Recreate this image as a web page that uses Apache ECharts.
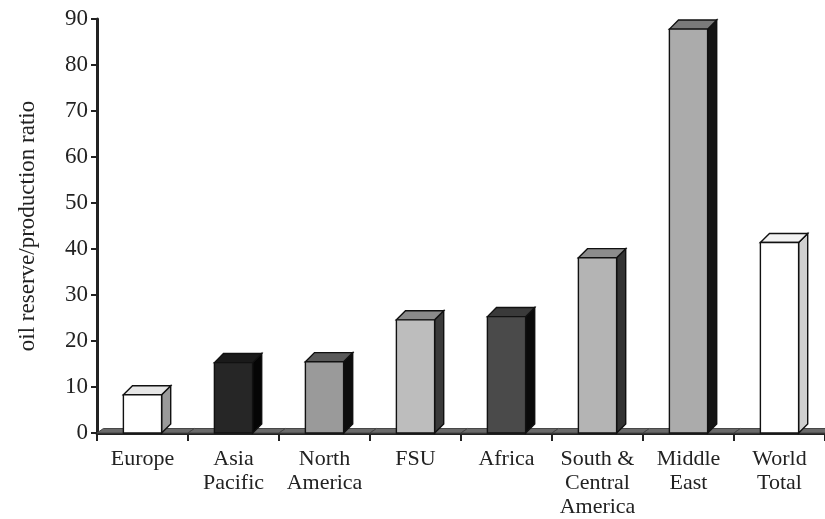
<!DOCTYPE html>
<html>
<head>
<meta charset="utf-8">
<script src="https://cdn.jsdelivr.net/npm/echarts@6/dist/echarts.min.js"></script>
<style>
  html, body { margin: 0; padding: 0; background: #fff; }
  #chart { width: 825px; height: 519px; }
</style>
</head>
<body>
<div id="chart"></div>
<script>
// Oil reserve / production ratio by region
const regions = ['Europe', 'Asia\nPacific', 'North\nAmerica', 'FSU', 'Africa',
                 'South &\nCentral\nAmerica', 'Middle\nEast', 'World\nTotal'];
const ratios = [8.3, 15.3, 15.5, 24.6, 25.3, 38.1, 87.8, 41.4];
const yTicks = [0, 10, 20, 30, 40, 50, 60, 70, 80, 90];

// Shading of each prism: front face, right side, top cap
const frontFill = ['#ffffff', '#262626', '#9a9a9a', '#bdbdbd', '#4a4a4a', '#b4b4b4', '#ababab', '#ffffff'];
const sideFill  = ['#9a9a9a', '#050505', '#0d0d0d', '#3a3a3a', '#0a0a0a', '#333333', '#141414', '#d0d0d0'];
const topFill   = ['#e6e6e6', '#1a1a1a', '#5a5a5a', '#8a8a8a', '#3a3a3a', '#8c8c8c', '#7a7a7a', '#f2f2f2'];

const chart = echarts.init(document.getElementById('chart'), null, { renderer: 'canvas' });

const serif = 'Liberation Serif, Times New Roman, serif';

function prism(params, api) {
  const idx = api.value(0);
  const val = api.value(1);
  const top = api.coord([idx, val]);
  const base = api.coord([idx, 0]);
  const band = api.size([1, 0])[0];
  const w = band * 0.42;
  const d = band * 0.1;
  const x0 = top[0] - w / 2;
  const x1 = top[0] + w / 2;
  const yt = top[1];
  const yb = base[1];
  const stroke = { stroke: '#111', lineWidth: 1.4 };
  return {
    type: 'group',
    children: [
      { type: 'polygon', shape: { points: [[x1, yt], [x1 + d, yt - d], [x1 + d, yb - d], [x1, yb]] },
        style: Object.assign({ fill: sideFill[idx] }, stroke) },
      { type: 'polygon', shape: { points: [[x0, yt], [x0 + d, yt - d], [x1 + d, yt - d], [x1, yt]] },
        style: Object.assign({ fill: topFill[idx] }, stroke) },
      { type: 'rect', shape: { x: x0, y: yt, width: w, height: yb - yt },
        style: Object.assign({ fill: frontFill[idx] }, stroke) }
    ]
  };
}

// Thin slab running along the floor of the plot
function floor(params, api) {
  const idx = api.value(0);
  const c = api.coord([idx, 0]);
  const band = api.size([1, 0])[0];
  const d = band * 0.07;
  const xl = c[0] - band / 2;
  const xr = c[0] + band / 2;
  return {
    type: 'polygon',
    shape: { points: [[xl, c[1]], [xl + d, c[1] - d * 0.7], [xr + d, c[1] - d * 0.7], [xr, c[1]]] },
    style: { fill: '#6a6a6a', stroke: '#444', lineWidth: 1 }
  };
}

chart.setOption({
  animation: false,
  backgroundColor: '#ffffff',
  grid: { left: 97, right: 0, top: 19, bottom: 86, containLabel: false },
  xAxis: {
    type: 'category',
    data: regions,
    axisLine: { show: true, lineStyle: { color: '#222', width: 3 } },
    axisTick: { show: true, length: 8, lineStyle: { color: '#222', width: 2 } },
    axisLabel: {
      color: '#222', fontFamily: serif, fontSize: 22, lineHeight: 24,
      margin: 14, interval: 0
    },
    splitLine: { show: false }
  },
  yAxis: {
    type: 'value',
    min: yTicks[0],
    max: yTicks[yTicks.length - 1],
    interval: 10,
    name: 'oil reserve/production ratio',
    nameLocation: 'middle',
    nameGap: 58,
    nameTextStyle: { color: '#222', fontFamily: serif, fontSize: 23 },
    axisLine: { show: true, lineStyle: { color: '#222', width: 3 } },
    axisTick: { show: true, length: 6, lineStyle: { color: '#222', width: 2 } },
    axisLabel: { color: '#222', fontFamily: serif, fontSize: 23, margin: 9 },
    splitLine: { show: false }
  },
  series: [
    {
      type: 'custom',
      renderItem: floor,
      data: ratios.map((v, i) => [i, v]),
      z: 1,
      silent: true
    },
    {
      type: 'custom',
      renderItem: prism,
      data: ratios.map((v, i) => [i, v]),
      encode: { x: 0, y: 1 },
      z: 2
    }
  ]
});
</script>
</body>
</html>
